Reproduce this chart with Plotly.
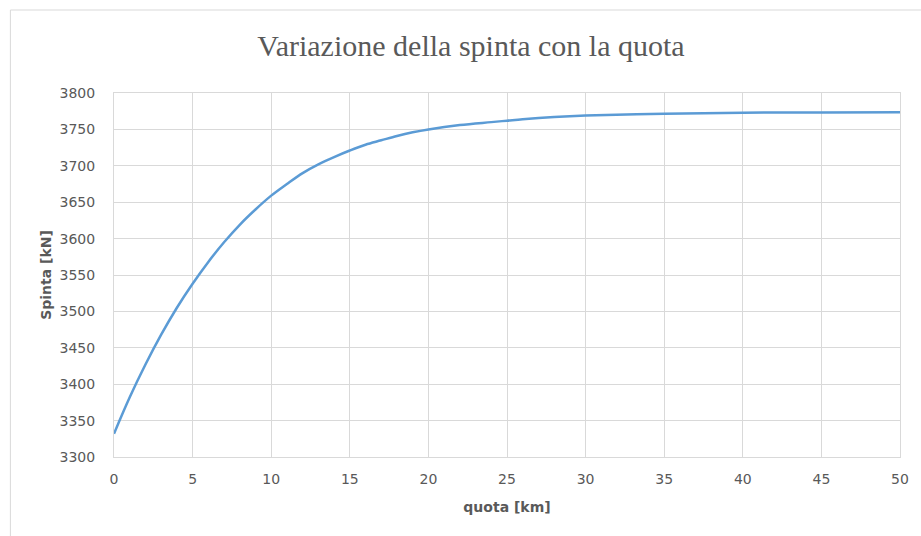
import plotly.graph_objects as go

# Quota (km) e spinta corrispondente (kN)
quota_km = [0, 1, 2, 3, 4, 5, 6, 7, 8, 9, 10, 11, 12, 13, 14, 15, 16, 17, 18, 19,
            20, 22, 24, 25, 26, 28, 30, 35, 40, 45, 50]
spinta_kN = [3332, 3382, 3427, 3468, 3505, 3538, 3568, 3595, 3619, 3640, 3659, 3675,
             3690, 3702, 3712, 3721, 3729, 3735, 3741, 3746, 3750, 3756, 3760, 3762,
             3764, 3767, 3769, 3771.5, 3773, 3773.3, 3773.6]

x_ticks = list(range(0, 51, 5))
y_ticks = list(range(3300, 3801, 50))

W, H = 921, 536
L, R, T, B = 114, 18, 93, 79

grid = "#d9d9d9"
text_col = "#595959"
tick_font = dict(family="DejaVu Sans", size=14, color=text_col)
title_font = dict(family="DejaVu Sans", size=14, color=text_col, weight="bold")

fig = go.Figure()
fig.add_trace(go.Scatter(
    x=quota_km, y=spinta_kN, mode="lines",
    line=dict(color="#5b9bd5", width=2.5, shape="spline", smoothing=1.0),
    showlegend=False, hoverinfo="x+y",
))

# cornice esterna del grafico
pw, ph = W - L - R, H - T - B
fig.add_shape(
    type="rect", xref="paper", yref="paper",
    x0=(10 - L) / pw, x1=(W + 20 - L) / pw,
    y0=-(B + 20) / ph, y1=(H - 10 - B) / ph,
    line=dict(color="#d9d9d9", width=1), fillcolor="rgba(0,0,0,0)", layer="below",
)

fig.update_layout(
    width=W, height=H,
    margin=dict(l=L, r=R, t=T, b=B),
    paper_bgcolor="white", plot_bgcolor="white",
    title=dict(
        text="Variazione della spinta con la quota",
        font=dict(family="Liberation Serif", size=30, color=text_col),
        xref="container", yref="container",
        x=471 / W, xanchor="center", y=1 - 45 / H, yanchor="middle",
    ),
    xaxis=dict(
        range=[0, 50], tickvals=x_ticks, ticktext=[str(v) for v in x_ticks],
        showgrid=True, gridcolor=grid, gridwidth=1,
        showline=True, linecolor=grid, linewidth=1, mirror=True,
        zeroline=False, ticks="", tickfont=tick_font, ticklabelstandoff=9,
        title=dict(text="quota [km]", font=title_font, standoff=16),
    ),
    yaxis=dict(
        range=[3300, 3800], tickvals=y_ticks, ticktext=[str(v) for v in y_ticks],
        showgrid=True, gridcolor=grid, gridwidth=1,
        showline=True, linecolor=grid, linewidth=1, mirror=True,
        zeroline=False, ticks="", tickfont=tick_font, ticklabelstandoff=15,
        title=dict(text="Spinta [kN]", font=title_font, standoff=4),
    ),
)

fig.write_html("out.html")
